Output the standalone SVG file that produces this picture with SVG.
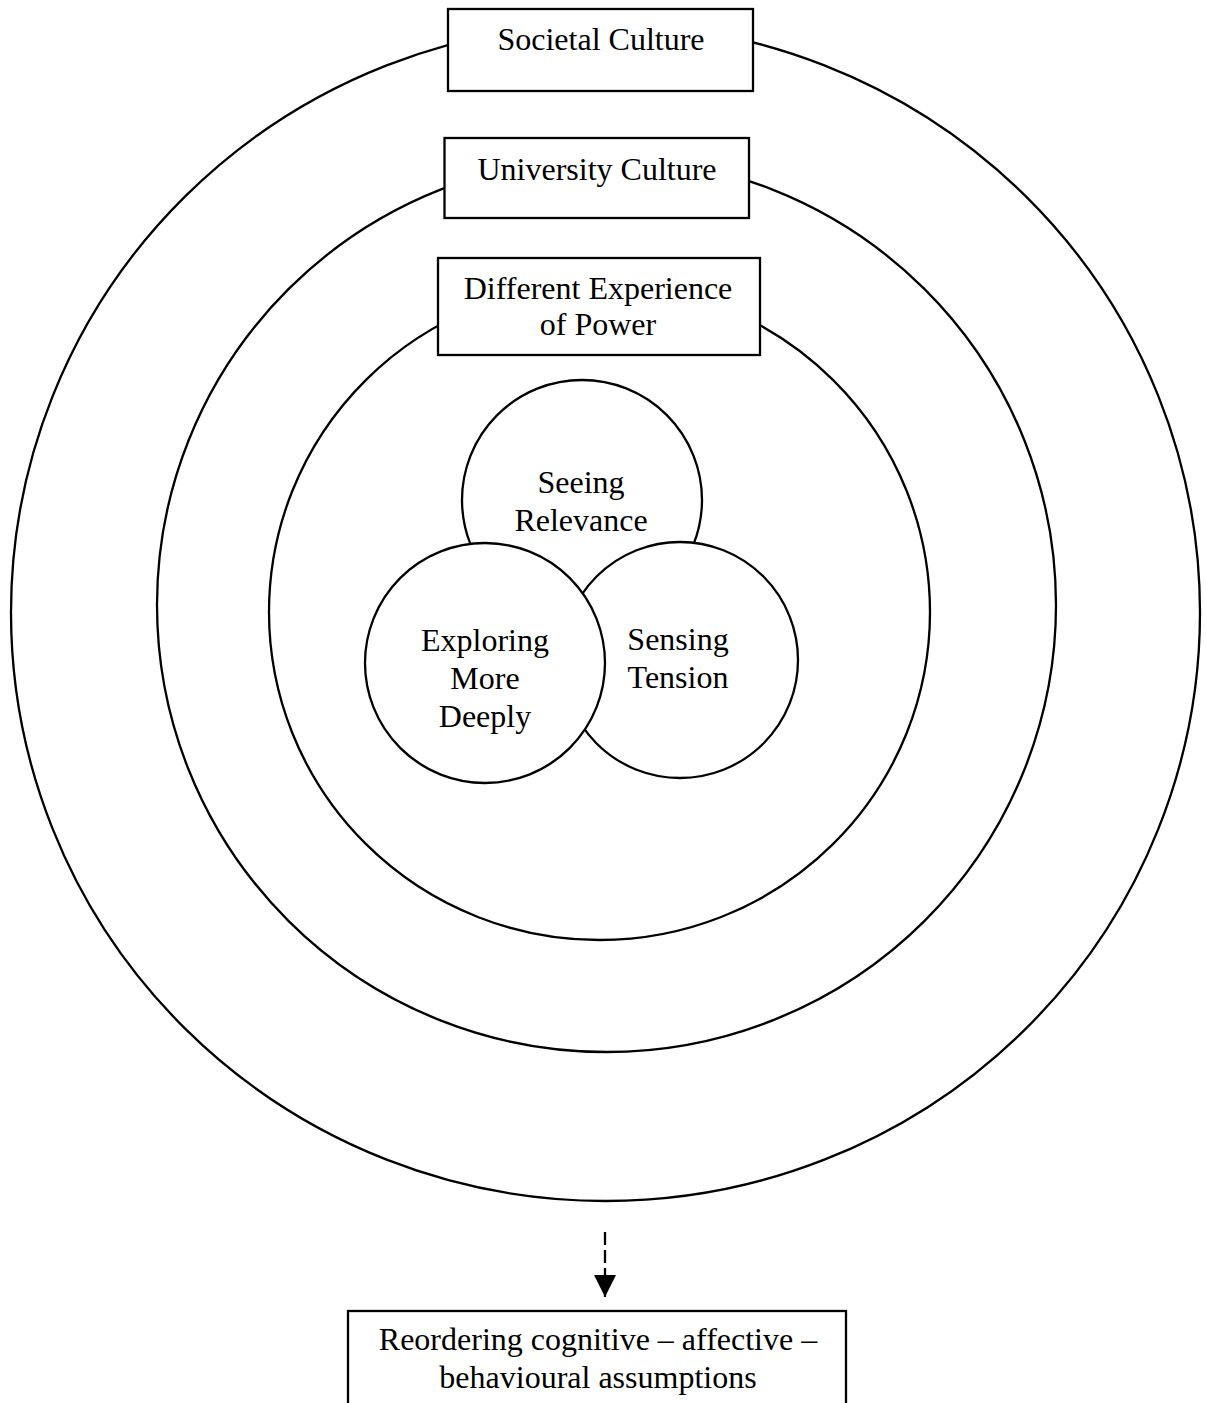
<svg xmlns="http://www.w3.org/2000/svg" width="1206" height="1403" viewBox="0 0 1206 1403">
<style>
.ring{fill:none;stroke:#000;stroke-width:2.3}
.c{fill:#fff;stroke:#000;stroke-width:2.3}
.box{fill:#fff;stroke:#000;stroke-width:2.3}
text{font-family:"Liberation Serif","Times New Roman",serif;font-size:32px;fill:#000;text-anchor:middle}
</style>
<defs>
<marker id="ah" viewBox="0 0 22 22" refX="22" refY="11" markerWidth="22" markerHeight="22" markerUnits="userSpaceOnUse" orient="auto">
<path d="M0,0 L22,11 L0,22 Z" fill="#000"/>
</marker>
</defs>
<rect width="1206" height="1403" fill="#fff"/>
<g id="ring-societal"><ellipse class="ring" cx="605.5" cy="612.5" rx="594.5" ry="588.5"/></g>
<g id="ring-university"><ellipse class="ring" cx="606.5" cy="605" rx="449.5" ry="447"/></g>
<g id="ring-power"><ellipse class="ring" cx="599.5" cy="612" rx="330.5" ry="328"/></g>
<g id="node-societal"><rect class="box" x="448" y="9" width="305" height="82"/><text x="601" y="50">Societal Culture</text></g>
<g id="node-university"><rect class="box" x="444.5" y="138" width="304.5" height="80"/><text x="597" y="180">University Culture</text></g>
<g id="node-power"><rect class="box" x="438" y="258" width="322" height="97"/><text x="598" y="299">Different Experience</text><text x="598" y="335">of Power</text></g>
<g id="node-seeing"><circle class="c" cx="582" cy="500" r="120"/><text x="581" y="493">Seeing</text><text x="581" y="531">Relevance</text></g>
<g id="node-sensing"><circle class="c" cx="680" cy="660" r="118"/><text x="678" y="650">Sensing</text><text x="678" y="688">Tension</text></g>
<g id="node-exploring"><circle class="c" cx="485" cy="663" r="120"/><text x="485" y="651">Exploring</text><text x="485" y="689">More</text><text x="485" y="727">Deeply</text></g>
<g id="connectors"><line x1="605" y1="1232" x2="605" y2="1297" stroke="#000" stroke-width="2.3" stroke-dasharray="13,5" marker-end="url(#ah)"/></g>
<g id="node-reordering"><rect class="box" x="348" y="1311" width="498" height="110"/><text x="598" y="1350">Reordering cognitive – affective –</text><text x="598" y="1388">behavioural assumptions</text></g>
</svg>
